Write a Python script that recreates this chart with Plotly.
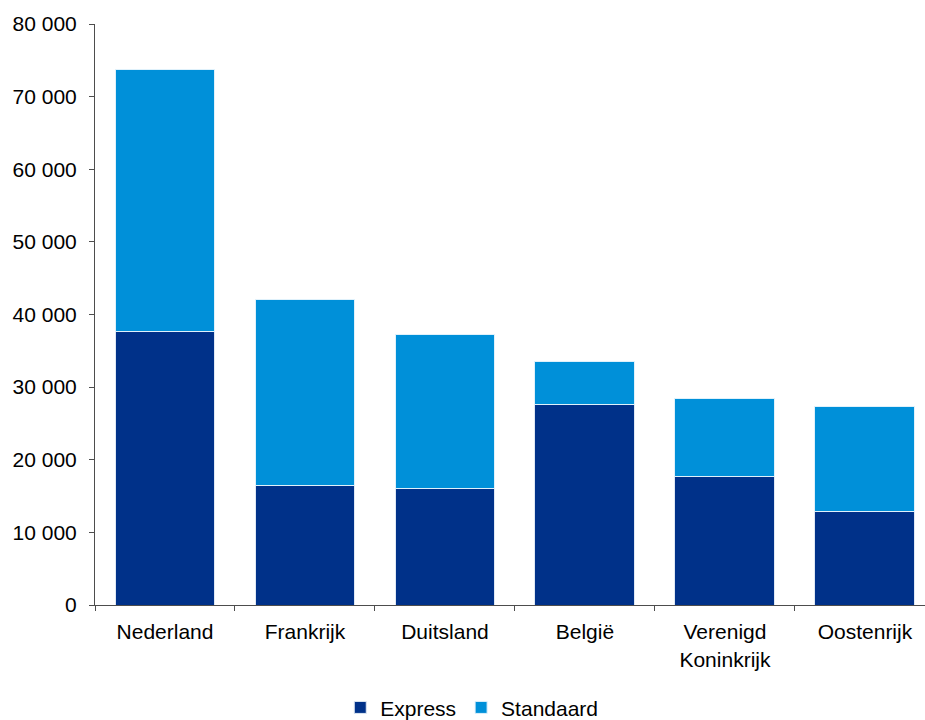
import plotly.graph_objects as go

# Parcel volumes per destination country, split by service type
countries = ["Nederland", "Frankrijk", "Duitsland", "België", "Verenigd<br>Koninkrijk", "Oostenrijk"]
express = [37700, 16400, 16000, 27600, 17700, 12900]
standaard = [36100, 25650, 21200, 5950, 10800, 14500]
y_ticks = [0, 10000, 20000, 30000, 40000, 50000, 60000, 70000, 80000]
y_tick_labels = ["0", "10 000", "20 000", "30 000", "40 000", "50 000", "60 000", "70 000", "80 000"]

font_family = "Liberation Sans, Arial, sans-serif"
axis_color = "#4d4d4d"

fig = go.Figure()
fig.add_trace(go.Bar(
    x=countries, y=express, name="Express",
    marker=dict(color="#003189", line=dict(color="#dfe8f3", width=1)),
))
fig.add_trace(go.Bar(
    x=countries, y=standaard, name="Standaard",
    marker=dict(color="#0090d9", line=dict(color="#dff1fb", width=1)),
))

fig.update_layout(
    barmode="stack",
    bargap=0.286,
    width=925, height=720,
    margin=dict(l=95, r=0, t=24, b=115),
    paper_bgcolor="white", plot_bgcolor="white",
    font=dict(family=font_family, size=21, color="#000000"),
    showlegend=True,
    legend=dict(
        orientation="h",
        xref="container", yref="container",
        x=0.51, xanchor="center",
        y=0.017, yanchor="middle",
        font=dict(size=21),
        itemwidth=30,
        traceorder="normal",
    ),
)

fig.update_xaxes(
    range=[-0.5, 5.429],
    showline=True, linecolor=axis_color, linewidth=1,
    ticks="outside", ticklen=5, tickcolor=axis_color,
    tickson="boundaries",
    showgrid=False, zeroline=False,
    ticklabelstandoff=8,
    tickfont=dict(size=21),
)
fig.update_yaxes(
    range=[0, 80000],
    tickvals=y_ticks, ticktext=y_tick_labels,
    showline=True, linecolor=axis_color, linewidth=1,
    ticks="outside", ticklen=5, tickcolor=axis_color,
    showgrid=False, zeroline=False,
    ticklabelstandoff=8,
    tickfont=dict(size=21),
)

fig.write_html("out.html")
